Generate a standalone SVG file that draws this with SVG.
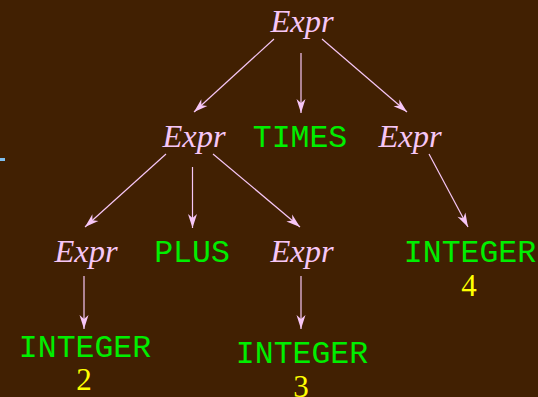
<svg xmlns="http://www.w3.org/2000/svg" width="538" height="397" viewBox="0 0 538 397">
<style>
.nt{font-family:"Liberation Serif",serif;font-style:italic;font-size:32.5px;fill:#f6c6f6;text-anchor:middle}
.tk{font-family:"Liberation Mono",monospace;font-size:31.5px;fill:#00ee00;text-anchor:middle}
.val{font-family:"Liberation Serif",serif;font-size:31px;fill:#ffff00;text-anchor:middle}
.e{stroke:#f6c6f6;stroke-width:1.2;fill:none;marker-end:url(#ah)}
</style>
<defs>
<marker id="ah" markerUnits="userSpaceOnUse" markerWidth="16" markerHeight="12" viewBox="-15 -6 16 12" refX="0" refY="0" orient="auto">
<path d="M0,0 L-14,-4.5 L-10,0 L-14,4.5 Z" fill="#f6c6f6"/>
</marker>
</defs>
<rect width="538" height="397" fill="#412002"/>
<path d="M0,158 L5,158 L5,161 L0,161 Z" fill="#7fbfef"/>
<g id="connectors">
<line class="e" x1="274" y1="39" x2="194" y2="112"/>
<line class="e" x1="301" y1="53" x2="301" y2="113"/>
<line class="e" x1="322" y1="39" x2="407" y2="112"/>
<line class="e" x1="166" y1="154" x2="85" y2="227"/>
<line class="e" x1="192.5" y1="167" x2="192.5" y2="228"/>
<line class="e" x1="213" y1="154" x2="300" y2="227"/>
<line class="e" x1="429" y1="154" x2="468" y2="227"/>
<line class="e" x1="84" y1="276" x2="84" y2="329"/>
<line class="e" x1="301" y1="276" x2="301" y2="329"/>
</g>
<g id="n_root"><text class="nt" x="302" y="32">Expr</text></g>
<g id="n_expr_l"><text class="nt" x="194" y="147">Expr</text></g>
<g id="n_times"><text class="tk" x="300" y="147">TIMES</text></g>
<g id="n_expr_r"><text class="nt" x="410" y="147">Expr</text></g>
<g id="n_expr_ll"><text class="nt" x="86" y="262">Expr</text></g>
<g id="n_plus"><text class="tk" x="192" y="262">PLUS</text></g>
<g id="n_expr_lr"><text class="nt" x="302" y="262">Expr</text></g>
<g id="n_int4"><text class="tk" x="470" y="262">INTEGER</text><text class="val" x="469" y="296">4</text></g>
<g id="n_int2"><text class="tk" x="85" y="357">INTEGER</text><text class="val" x="84" y="390">2</text></g>
<g id="n_int3"><text class="tk" x="302" y="363">INTEGER</text><text class="val" x="301" y="397">3</text></g>
</svg>
